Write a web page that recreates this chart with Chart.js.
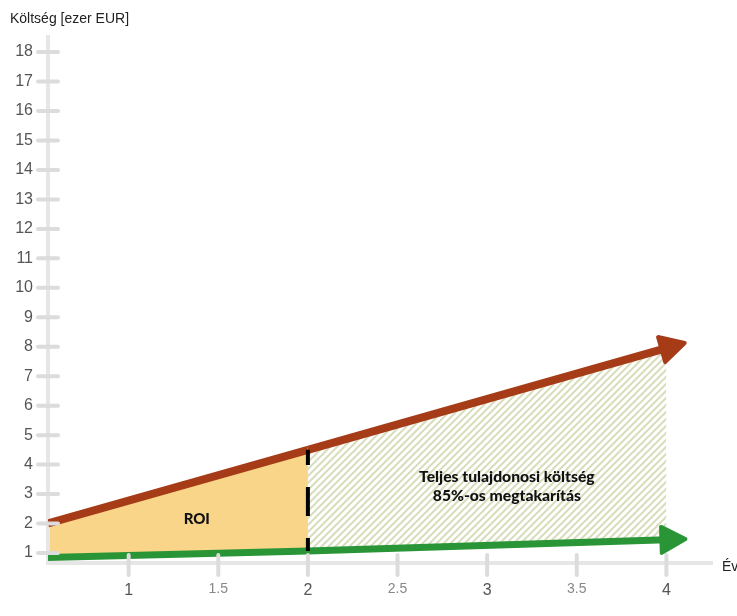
<!DOCTYPE html>
<html>
<head>
<meta charset="utf-8">
<script src="https://cdn.jsdelivr.net/npm/chart.js@4"></script>
<style>
  html, body { margin: 0; padding: 0; background: #fff; }
  #wrap { width: 737px; height: 616px; position: relative; }
</style>
</head>
<body>
<div id="wrap"><canvas id="chart"></canvas></div>
<script>
// Data
const years = [0.55, 2, 4];            // Év
const oldCost = [2, 4.5, 7.95];         // red line, ezer EUR
const newCost = [0.85, 1.07, 1.45];     // green line, ezer EUR
const xTicks = [1, 1.5, 2, 2.5, 3, 3.5, 4];
const yTicks = [1, 2, 3, 4, 5, 6, 7, 8, 9, 10, 11, 12, 13, 14, 15, 16, 17, 18];
const roiEnd = 2;

const RED = '#a63b17';
const GREEN = '#2a9537';
const ORANGE = '#f8d588';
const AXIS = '#e6e6e6';
const TICK = '#dcdcdc';

// hatch pattern for the savings area
function makeHatch() {
  const s = 7;
  const c = document.createElement('canvas');
  c.width = s; c.height = s;
  const g = c.getContext('2d');
  g.fillStyle = '#fff';
  g.fillRect(0, 0, s, s);
  g.strokeStyle = '#d8ddbc';
  g.lineWidth = 2;
  g.beginPath();
  g.moveTo(-1, s + 1); g.lineTo(s + 1, -1);
  g.moveTo(-1, 1); g.lineTo(1, -1);
  g.moveTo(s - 1, s + 1); g.lineTo(s + 1, s - 1);
  g.stroke();
  return g.createPattern(c, 'repeat');
}
const hatch = makeHatch();

const pts = (ys) => years.map((x, i) => ({ x: x, y: ys[i] }));
const isMajor = c => !c.tick || Number.isInteger(c.tick.value);

const axesPlugin = {
  id: 'axesDeco',
  beforeDatasetsDraw(chart) {
    const { ctx, chartArea: a } = chart;
    ctx.save();
    ctx.strokeStyle = AXIS;
    ctx.lineWidth = 4;
    ctx.beginPath();
    ctx.moveTo(a.left, a.top);
    ctx.lineTo(a.left, a.bottom);
    ctx.lineTo(a.right, a.bottom);
    ctx.stroke();
    ctx.restore();
  },
  afterDatasetsDraw(chart) {
    const { ctx, chartArea: a, scales } = chart;
    const xs = scales.x, ys = scales.y;
    ctx.save();
    // tick marks
    ctx.strokeStyle = TICK;
    ctx.lineWidth = 4;
    ctx.lineCap = 'round';
    yTicks.forEach(v => {
      const py = ys.getPixelForValue(v);
      ctx.beginPath();
      ctx.moveTo(a.left - 10, py);
      ctx.lineTo(a.left + 10, py);
      ctx.stroke();
    });
    xTicks.forEach(v => {
      const px = xs.getPixelForValue(v);
      ctx.beginPath();
      ctx.moveTo(px, a.bottom - 8);
      ctx.lineTo(px, a.bottom + 12);
      ctx.stroke();
    });

    // arrow heads at the end of both lines
    [1, 2].forEach(i => {
      const meta = chart.getDatasetMeta(i);
      const n = meta.data.length;
      const p1 = meta.data[n - 2], p2 = meta.data[n - 1];
      const ang = Math.atan2(p2.y - p1.y, p2.x - p1.x);
      const col = chart.data.datasets[i].borderColor;
      ctx.save();
      ctx.translate(p2.x, p2.y);
      ctx.rotate(ang);
      ctx.fillStyle = col;
      ctx.strokeStyle = col;
      ctx.lineWidth = 4;
      ctx.lineJoin = 'round';
      ctx.beginPath();
      ctx.moveTo(-5, -13);
      ctx.lineTo(19, 0);
      ctx.lineTo(-5, 13);
      ctx.closePath();
      ctx.fill();
      ctx.stroke();
      ctx.restore();
    });

    // labels inside the chart
    ctx.fillStyle = '#111';
    ctx.textAlign = 'center';
    ctx.textBaseline = 'middle';
    ctx.font = '900 15px Lato';
    ctx.fillText('ROI', xs.getPixelForValue(1.38), ys.getPixelForValue(2.16));
    ctx.font = '900 15.7px Lato';
    const cx = xs.getPixelForValue(3.11);
    ctx.fillText('Teljes tulajdonosi költség', cx, ys.getPixelForValue(3.58));
    ctx.fillText('85%-os megtakarítás', cx, ys.getPixelForValue(2.93));

    // axis titles
    ctx.fillStyle = '#222';
    ctx.textAlign = 'left';
    ctx.font = '14px "Liberation Sans"';
    ctx.fillText('Költség [ezer EUR]', 10, 19);
    ctx.fillText('Év', 722, 567);
    ctx.restore();
  }
};

new Chart(document.getElementById('chart'), {
  type: 'line',
  data: {
    datasets: [
      {
        // dashed divider at the end of the ROI period
        data: [{ x: roiEnd, y: newCost[1] }, { x: roiEnd, y: oldCost[1] }],
        borderColor: '#000',
        borderWidth: 4,
        borderDash: [29, 22],
        borderDashOffset: 16,
        pointRadius: 0,
        fill: false
      },
      {
        data: pts(oldCost),
        borderColor: RED,
        borderWidth: 8,
        pointRadius: 0,
        tension: 0,
        fill: 2,
        backgroundColor: ORANGE,
        segment: {
          backgroundColor: c => c.p0.parsed.x < roiEnd ? ORANGE : hatch
        }
      },
      {
        data: pts(newCost),
        borderColor: GREEN,
        borderWidth: 7,
        pointRadius: 0,
        tension: 0,
        fill: false
      }
    ]
  },
  options: {
    responsive: true,
    maintainAspectRatio: false,
    animation: false,
    events: [],
    layout: { padding: { left: 0, right: 24, top: 35, bottom: 0 } },
    plugins: {
      legend: { display: false },
      tooltip: { enabled: false },
      filler: { drawTime: 'beforeDatasetsDraw' }
    },
    scales: {
      x: {
        type: 'linear',
        min: 0.55,
        max: 4.26,
        afterBuildTicks: s => { s.ticks = xTicks.map(v => ({ value: v })); },
        afterFit: s => { s.height = 53; },
        grid: { display: false, drawTicks: false },
        border: { display: false },
        ticks: {
          autoSkip: false,
          maxRotation: 0,
          padding: 18,
          font: c => isMajor(c)
            ? { family: 'Liberation Sans', size: 16 }
            : { family: 'Liberation Sans', size: 14 },
          color: c => isMajor(c) ? '#555' : '#888',
          callback: v => String(v)
        }
      },
      y: {
        type: 'linear',
        min: 0.66,
        max: 18.58,
        afterBuildTicks: s => { s.ticks = yTicks.map(v => ({ value: v })); },
        afterFit: s => { s.width = 48; },
        grid: { display: false, drawTicks: false },
        border: { display: false },
        ticks: {
          autoSkip: false,
          padding: 15,
          font: { family: 'Liberation Sans', size: 16 },
          color: '#555'
        }
      }
    }
  },
  plugins: [axesPlugin]
});
</script>
</body>
</html>
